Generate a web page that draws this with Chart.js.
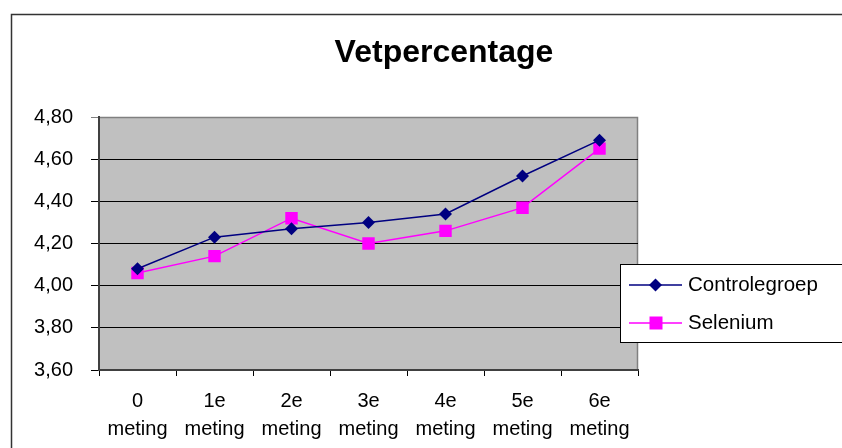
<!DOCTYPE html>
<html>
<head>
<meta charset="utf-8">
<script src="https://cdn.jsdelivr.net/npm/chart.js@4/dist/chart.umd.min.js"></script>
<style>
  html, body { margin: 0; padding: 0; background: #fff; overflow: hidden; }
  #wrap { width: 842px; height: 448px; }
</style>
</head>
<body>
<div id="wrap"><canvas id="lineChart" width="842" height="448"></canvas></div>
<script>
const chartTitle = "Vetpercentage";
const categories = [["0", "meting"], ["1e", "meting"], ["2e", "meting"], ["3e", "meting"], ["4e", "meting"], ["5e", "meting"], ["6e", "meting"]];
const controleValues = [4.08, 4.23, 4.27, 4.30, 4.34, 4.52, 4.69];
const seleniumValues = [4.06, 4.14, 4.32, 4.20, 4.26, 4.37, 4.65];
const yMin = 3.6, yMax = 4.8, yStep = 0.2;

const FONT = "'Liberation Sans', Arial, sans-serif";

// frame, grey plot area, title
const backdrop = {
    id: 'backdrop',
    beforeDraw(chart) {
        const ctx = chart.ctx, a = chart.chartArea;
        ctx.save();
        ctx.fillStyle = '#fff';
        ctx.fillRect(0, 0, chart.width, chart.height);
        ctx.strokeStyle = '#333';
        ctx.lineWidth = 1.5;
        ctx.strokeRect(11.5, 14.5, 900, 500);
        ctx.fillStyle = '#C0C0C0';
        ctx.fillRect(a.left, a.top, a.right - a.left, a.bottom - a.top);
        ctx.strokeStyle = '#808080';
        ctx.lineWidth = 1.5;
        ctx.beginPath();
        ctx.moveTo(a.left, a.top + 0.5);
        ctx.lineTo(a.right - 0.5, a.top + 0.5);
        ctx.lineTo(a.right - 0.5, a.bottom);
        ctx.stroke();
        ctx.fillStyle = '#000';
        ctx.font = 'bold 32px ' + FONT;
        ctx.textAlign = 'center';
        ctx.textBaseline = 'alphabetic';
        ctx.fillText(chartTitle, 444, 62);
        ctx.restore();
    }
};

// boxed legend like the spreadsheet one
const boxLegend = {
    id: 'boxLegend',
    afterDraw(chart) {
        const ctx = chart.ctx;
        ctx.save();
        ctx.fillStyle = '#fff';
        ctx.fillRect(620, 264, 240, 78);
        ctx.strokeStyle = '#000';
        ctx.lineWidth = 1;
        ctx.strokeRect(620.5, 264.5, 240, 78);
        const rows = [285, 323];
        chart.data.datasets.forEach((ds, i) => {
            const y = rows[i];
            ctx.strokeStyle = ds.borderColor;
            ctx.lineWidth = 1.5;
            ctx.beginPath();
            ctx.moveTo(629, y);
            ctx.lineTo(682, y);
            ctx.stroke();
            ctx.fillStyle = ds.backgroundColor;
            ctx.beginPath();
            if (ds.pointStyle === 'rectRot') {
                ctx.moveTo(655.5, y - 6.5);
                ctx.lineTo(662, y);
                ctx.lineTo(655.5, y + 6.5);
                ctx.lineTo(649, y);
                ctx.closePath();
            } else {
                ctx.rect(649.5, y - 6.5, 13, 13);
            }
            ctx.fill();
            ctx.fillStyle = '#000';
            ctx.font = '20.5px ' + FONT;
            ctx.textAlign = 'left';
            ctx.textBaseline = 'alphabetic';
            ctx.fillText(ds.label, 688, y + 6);
        });
        ctx.restore();
    }
};

let ctxL = document.getElementById("lineChart").getContext('2d');

let myLineChart = new Chart(ctxL, {
    type: 'line',
    data: {
        labels: categories,
        datasets: [{
            label: "Controlegroep",
            data: controleValues,
            borderColor: '#000080',
            backgroundColor: '#000080',
            borderWidth: 1.5,
            pointStyle: 'rectRot',
            pointRadius: 6.5,
            pointBorderWidth: 0,
            tension: 0
        },
        {
            label: "Selenium",
            data: seleniumValues,
            borderColor: '#FF00FF',
            backgroundColor: '#FF00FF',
            borderWidth: 1.5,
            pointStyle: 'rect',
            pointRadius: 8.8,
            pointBorderWidth: 0,
            tension: 0
        }]
    },
    options: {
        responsive: false,
        animation: false,
        layout: { padding: { left: 0, top: 117, right: 204, bottom: 0 } },
        plugins: {
            legend: { display: false },
            title: { display: false },
            tooltip: { enabled: false }
        },
        scales: {
            x: {
                offset: true,
                afterFit: function (scale) { scale.height = 78; },
                grid: {
                    offset: true,
                    drawOnChartArea: false,
                    tickLength: 6,
                    color: '#000'
                },
                border: { color: '#404040', width: 2 },
                ticks: {
                    color: '#000',
                    padding: 12,
                    font: { family: FONT, size: 20, lineHeight: 1.38 },
                    maxRotation: 0,
                    autoSkip: false
                }
            },
            y: {
                min: yMin,
                max: yMax,
                afterFit: function (scale) { scale.width = 99; },
                grid: {
                    tickLength: 8,
                    color: ctx => (ctx.tick && Math.abs(ctx.tick.value - yMax) < 1e-6) ? '#808080' : '#000',
                    lineWidth: 1
                },
                border: { color: '#404040', width: 2 },
                ticks: {
                    stepSize: yStep,
                    color: '#000',
                    padding: 18,
                    font: { family: FONT, size: 20 },
                    callback: v => v.toFixed(2).replace('.', ',')
                }
            }
        }
    },
    plugins: [backdrop, boxLegend]
});
</script>
</body>
</html>
